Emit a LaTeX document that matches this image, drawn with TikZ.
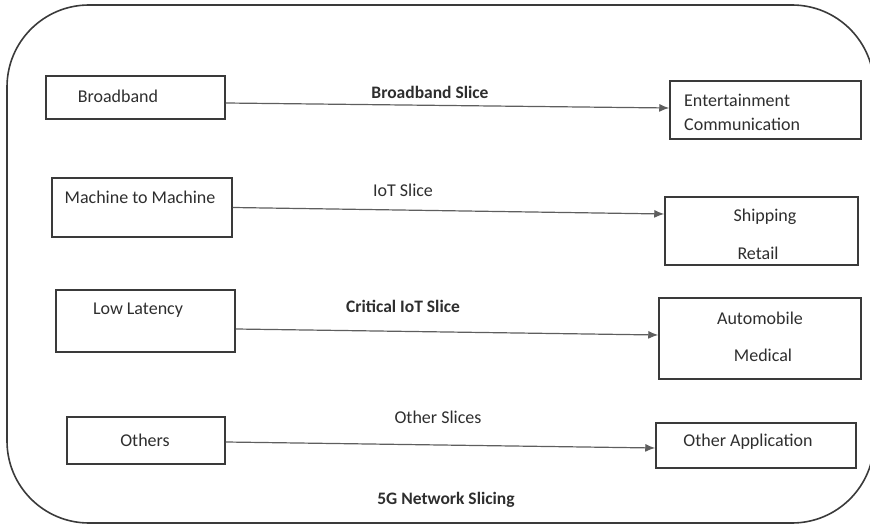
\documentclass[tikz,border=0pt]{standalone}
\usepackage{fontspec}
\setmainfont{Carlito}
\usepackage{xcolor}
\usepackage{tikz}
\usetikzlibrary{arrows.meta}
\definecolor{edgegray}{HTML}{3A3A3A}
\definecolor{linegray}{HTML}{5E5E5E}
\definecolor{inkgray}{HTML}{2E2E2E}
\tikzset{slicebox/.style={draw=edgegray, line width=1.5pt, inner sep=0pt}}
\tikzset{txt/.style={text=inkgray, inner sep=0pt, font=\fontsize{18}{21}\selectfont}}
\tikzset{boldtxt/.style={txt, font=\fontsize{17.5}{21}\selectfont\bfseries}}
\tikzset{slice/.style={linegray, line width=1.2pt, -{Latex[length=10pt,width=8pt]}}}

\begin{document}
\begin{tikzpicture} [x=1pt, y=-1pt]
\useasboundingbox (0,0) rectangle (870,526);
\draw[edgegray, line width=1.6pt, rounded corners=82pt] (7,5) rectangle (874,523);
% left side
\node[slicebox, minimum width=179, minimum height=43] (bb) at (135.5,97.5) {};
\node[slicebox, minimum width=180, minimum height=59] (mtm) at (142,207.5) {};
\node[slicebox, minimum width=179, minimum height=62] (ll) at (145.5,321) {};
\node[slicebox, minimum width=158, minimum height=47] (oth) at (146,440.5) {};
\node[txt] (bbtxt) at (118,96) {Broadband};
\node[txt] (mtmtxt) at (140,197) {Machine to Machine};
\node[txt] (lltxt) at (138,310) {Low Latency};
\node[txt] (othtxt) at (145,440) {Others};
% right side
\node[slicebox, minimum width=191, minimum height=58] (ent) at (765.5,110) {};
\node[slicebox, minimum width=193, minimum height=68] (ship) at (761.5,231) {};
\node[slicebox, minimum width=202, minimum height=81] (auto) at (760,338.5) {};
\node[slicebox, minimum width=200, minimum height=45] (oa) at (756,445.5) {};
\node[txt, anchor=west] (enttxt) at (684,100) {Entertainment};
\node[txt, anchor=west] (comtxt) at (684,124) {Communication};
\node[txt] (shiptxt) at (765,217) {Shipping};
\node[txt] (rettxt) at (758,253) {Retail};
\node[txt] (autotxt) at (760,318) {Automobile};
\node[txt] (medtxt) at (763,355) {Medical};
\node[txt] (oatxt) at (748,442) {Other Application};
% slices
\draw[slice] ([yshift=-5.5pt]bb.east) -- ([yshift=2pt]ent.west);
\draw[slice] (mtm.east) -- ([yshift=17pt]ship.west);
\draw[slice] ([yshift=-8pt]ll.east) -- ([yshift=3.5pt]auto.west);
\draw[slice] ([yshift=-1.5pt]oth.east) -- ([yshift=-2.5pt]oa.west);
\node[boldtxt] (bbslice) at (430,92) {Broadband Slice};
\node[txt] (iotslice) at (403,190) {IoT Slice};
\node[boldtxt] (critslice) at (403,306) {Critical IoT Slice};
\node[txt] (othslice) at (438,417) {Other Slices};
\node[boldtxt] (title) at (446,500) {5G Network Slicing};
\end{tikzpicture}
\end{document}
